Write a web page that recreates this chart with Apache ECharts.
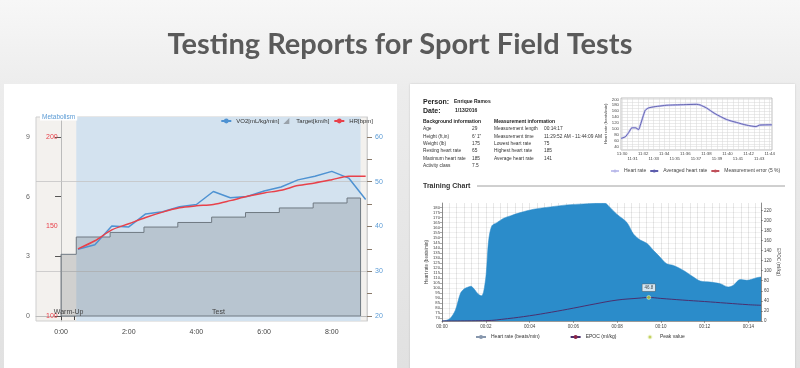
<!DOCTYPE html>
<html><head><meta charset="utf-8">
<script src="https://cdn.jsdelivr.net/npm/echarts@6/dist/echarts.min.js"></script>
<style>
html,body{margin:0;padding:0;width:800px;height:368px;overflow:hidden;}
body{background:linear-gradient(#f7f7f7 0%,#ececec 25%,#e1e1e1 100%);position:relative;}
.panel{position:absolute;background:#fff;}
#chart{position:absolute;left:0;top:0;width:800px;height:368px;}
</style></head>
<body>
<div class="panel" style="left:4px;top:84px;width:393px;height:290px;"></div>
<div class="panel" style="left:410px;top:84px;width:385px;height:290px;box-shadow:0 0 2px rgba(0,0,0,0.15)"></div>
<div id="chart"></div>
<script>
// ---------- Slide ----------
const slideTitle = 'Testing Reports for Sport Field Tests';

// ---------- Left chart: field test ----------
const fieldXLabels = [0, 2, 4, 6, 8];               // minutes
const metabolismTicks = [0, 3, 6, 9];
const hrTicks = [100, 150, 200];
const vo2Labels = [20, 30, 40, 50, 60];
const vo2Ticks = [20, 25, 30, 35, 40, 45, 50, 55, 60];
const vo2GridLines = [30, 50];
const phaseNames = ['Warm-Up', 'Test'];
const phaseStart = [0, 0.45];
const phaseEnd = [0.45, 8.85];
const targetTimes = [0, 0, 0.45, 1.45, 2.45, 3.45, 4.45, 5.45, 6.45, 7.45, 8.45, 8.85, 8.85, 0];
const targetValues = [0, 3.1, 3.97, 4.2, 4.47, 4.7, 4.97, 5.2, 5.43, 5.68, 5.93, 5.93, 0, 0];
const sampleTimes = [0.5, 1, 1.5, 2, 2.5, 3, 3.5, 4, 4.5, 5, 5.5, 6, 6.5, 7, 7.5, 8, 8.5, 9];
const vo2Values = [34.9, 35.9, 40.1, 39.9, 42.8, 43.3, 44.4, 44.9, 47.8, 46.4, 46.7, 47.9, 48.8, 50.4, 51.2, 52.3, 50.8, 46.0];
const hrValues = [137.5, 142, 148.1, 151.5, 155, 158, 160.4, 161.5, 162.3, 164.4, 166.8, 168.7, 170.2, 172.8, 174.3, 176.1, 178, 178];

// ---------- Right panel: report info ----------
const personName = 'Enrique Ramos';
const reportDate = '1/13/2016';
const bgLabels = ['Age', 'Height (ft,in)', 'Weight (lb)', 'Resting heart rate', 'Maximum heart rate', 'Activity class'];
const bgValues = ['29', '6\' 1"', '175', '65', '185', '7.5'];
const measLabels = ['Measurement length', 'Measurement time', 'Lowest heart rate', 'Highest heart rate', 'Average heart rate'];
const measValues = ['00:14:17', '11:29:52 AM - 11:44:09 AM', '75', '185', '141'];

// ---------- Small heart-rate chart (minutes after 11:30) ----------
const smallXLabels = [0, 1, 2, 3, 4, 5, 6, 7, 8, 9, 10, 11, 12, 13, 14];
const smallYLabels = [40, 60, 80, 100, 120, 140, 160, 180, 200];
const smallTimes = [-0.1, 0.31, 0.63, 0.94, 1.26, 1.57, 1.73, 1.98, 2.2, 2.52, 3.14, 4.25, 5.82, 7.08, 7.4, 8.0, 8.8, 9.9, 10.85, 11.8, 12.7, 13.05, 14.15, 14.22];
const smallHR = [68, 73.5, 88, 104, 104, 98, 112.7, 140.7, 163, 171, 175.4, 180, 182, 183, 181, 171, 152, 132, 122, 113, 108, 113, 114, 114];

// ---------- Training chart ----------
const trainHRLabels = [70, 75, 80, 85, 90, 95, 100, 105, 110, 115, 120, 125, 130, 135, 140, 145, 150, 155, 160, 165, 170, 175, 180];
const epocLabels = [0, 20, 40, 60, 80, 100, 120, 140, 160, 180, 200, 220];
const trainTimes = [0, 0.2, 0.38, 0.61, 0.84, 0.99, 1.14, 1.32, 1.48, 1.63, 1.80, 1.90, 2.02, 2.13, 2.28, 2.51, 2.82, 3.12, 3.58, 4.19, 4.95, 5.71, 6.47, 7.23, 7.46, 7.61, 7.99, 8.45, 8.75, 9.06, 9.36, 9.67, 9.97, 10.27, 10.58, 11.04, 11.49, 11.80, 12.25, 12.71, 13.09, 13.32, 13.62, 13.93, 14.38, 14.58];
const trainHR = [67.5, 68, 70, 78, 94.6, 98.8, 100.5, 101.8, 98.8, 94.6, 92.3, 96.2, 114, 147, 161.9, 165, 169.4, 171.7, 175, 178.3, 180.6, 182.6, 183.6, 184.2, 184.2, 181.6, 173.4, 165.2, 153.7, 147.8, 144.5, 137.3, 130.7, 124.1, 122.5, 117.5, 111, 107, 106, 104.4, 101.1, 102.8, 108.4, 107.7, 110.3, 111];
const epocTimes = [0, 2, 3, 4, 5, 6, 7, 8, 9, 9.45, 10, 11, 12, 13, 14, 14.58];
const epocValues = [0, 0.7, 4.7, 10.4, 17.5, 25.5, 34, 41.6, 45.4, 46.8, 44.9, 41.6, 38.7, 35.5, 32.4, 31.2];
const peakTimes = [9.45];
const peakValues = [46.8];

// ---------- helpers ----------
const pairs = (xs, ys) => xs.map((x, i) => [x, ys[i]]);
const pad2 = n => (n < 10 ? '0' : '') + n;
const fieldMinorTicks = [];
for (let t = 0; t <= 8.81; t += 0.4) fieldMinorTicks.push(+t.toFixed(2));
const smallXTicks = [];
for (let t = 0; t <= 14; t += 0.5) smallXTicks.push(t);
const smallYTicks = [];
for (let v = 30; v <= 200; v += 10) smallYTicks.push(v);

const FONT = 'Liberation Sans, Arial, sans-serif';

// ---------- graphic texts ----------
const G = [];
G.push({type: 'text', x: 400, y: 45, style: {text: slideTitle, font: 'bold 29px Lato', fill: '#5a5a5a', align: 'center', verticalAlign: 'middle'}});
G.push({type: 'text', x: 40, y: 117, z: 10, style: {text: 'Metabolism', font: '6.5px ' + FONT, fill: '#5b9bd5', verticalAlign: 'middle', backgroundColor: '#fff', padding: [0, 2, 0, 2]}});
G.push({type: 'text', x: 423, y: 102, style: {text: 'Person:', font: 'bold 7px ' + FONT, fill: '#222', verticalAlign: 'middle'}});
G.push({type: 'text', x: 454, y: 102, style: {text: personName, font: 'bold 5px ' + FONT, fill: '#222', verticalAlign: 'middle'}});
G.push({type: 'text', x: 423, y: 111, style: {text: 'Date:', font: 'bold 7px ' + FONT, fill: '#222', verticalAlign: 'middle'}});
G.push({type: 'text', x: 455, y: 111, style: {text: reportDate, font: 'bold 5px ' + FONT, fill: '#222', verticalAlign: 'middle'}});
G.push({type: 'text', x: 423, y: 121.5, style: {text: 'Background information', font: 'bold 5px ' + FONT, fill: '#222', verticalAlign: 'middle'}});
G.push({type: 'text', x: 494, y: 121.5, style: {text: 'Measurement information', font: 'bold 5px ' + FONT, fill: '#222', verticalAlign: 'middle'}});
bgLabels.forEach((l, i) => {
  const y = 129 + i * 7.3;
  G.push({type: 'text', x: 423, y, style: {text: l, font: '4.8px ' + FONT, fill: '#333', verticalAlign: 'middle'}});
  G.push({type: 'text', x: 472, y, style: {text: bgValues[i], font: '4.8px ' + FONT, fill: '#333', verticalAlign: 'middle'}});
});
measLabels.forEach((l, i) => {
  const y = 129 + i * 7.3;
  G.push({type: 'text', x: 494, y, style: {text: l, font: '4.8px ' + FONT, fill: '#333', verticalAlign: 'middle'}});
  G.push({type: 'text', x: 544, y, style: {text: measValues[i], font: '4.8px ' + FONT, fill: '#333', verticalAlign: 'middle'}});
});
G.push({type: 'text', x: 423, y: 186, style: {text: 'Training Chart', font: 'bold 7px ' + FONT, fill: '#333', verticalAlign: 'middle'}});
G.push({type: 'line', shape: {x1: 477, y1: 186, x2: 785, y2: 186}, style: {stroke: '#888', lineWidth: 0.8}});

const chart = echarts.init(document.getElementById('chart'));
const option = {
  animation: false,
  textStyle: {fontFamily: FONT},
  graphic: G,
  grid: [
    {left: 36, top: 117, width: 331, height: 204, show: true, backgroundColor: '#f3f1ee', borderColor: '#cfcfcf', borderWidth: 1},
    {left: 621, top: 98, width: 151, height: 52, show: true, backgroundColor: '#fff', borderColor: '#999', borderWidth: 0.6},
    {left: 442, top: 203, width: 319, height: 118, show: false}
  ],
  legend: [
    {right: 427, top: 118, padding: 0, itemWidth: 10, itemHeight: 6, itemGap: 4, selectedMode: false,
     textStyle: {fontSize: 6, color: '#333'},
     data: [
       {name: 'VO2[mL/kg/min]'},
       {name: 'Target[km/h]', icon: 'path://M0,10L10,0L10,10Z', itemStyle: {color: '#9aa2aa'}},
       {name: 'HR[bpm]'}
     ]},
    {left: 610, top: 168.5, padding: 0, itemWidth: 8, itemHeight: 4, itemGap: 3, selectedMode: false,
     textStyle: {fontSize: 5, color: '#444'},
     data: ['Heart rate', 'Averaged heart rate', 'Measurement error (5 %)']},
    {left: 475, top: 333.5, padding: 0, itemWidth: 10, itemHeight: 5, itemGap: 30, selectedMode: false,
     textStyle: {fontSize: 5, color: '#333'},
     data: [
       {name: 'Heart rate (beats/min)', lineStyle: {color: '#8797ad'}},
       {name: 'EPOC (ml/kg)'},
       {name: 'Peak value'}
     ]}
  ],
  xAxis: [
    {gridIndex: 0, type: 'value', min: -0.74, max: 9.04,
     axisLine: {lineStyle: {color: '#bbb'}},
     axisTick: {customValues: fieldMinorTicks, length: 4, lineStyle: {color: '#444'}},
     axisLabel: {customValues: fieldXLabels, formatter: v => v + ':00', color: '#444', fontSize: 7, margin: 8},
     splitLine: {show: false}},
    {gridIndex: 1, type: 'value', min: -0.1, max: 14.22,
     axisLine: {show: false},
     axisTick: {customValues: smallXTicks, show: false},
     axisLabel: {customValues: smallXLabels, formatter: v => (v % 2 ? '\n' : '') + '11:' + (30 + v), color: '#444', fontSize: 4.3, margin: 2, lineHeight: 4.5},
     splitLine: {show: true, lineStyle: {color: '#d6d6d6', width: 0.5}}},
    {gridIndex: 2, type: 'value', min: 0, max: 14.58, interval: 2, z: 3,
     axisLine: {lineStyle: {color: '#555', width: 0.6}},
     axisTick: {show: true, length: 2, lineStyle: {color: '#555', width: 0.5}},
     axisLabel: {formatter: v => '00:' + pad2(v), color: '#444', fontSize: 4.5, margin: 3},
     splitLine: {show: true, lineStyle: {color: 'rgba(0,0,0,0.18)', width: 0.5}},
     minorTick: {show: false, splitNumber: 6},
     minorSplitLine: {show: true, lineStyle: {color: 'rgba(0,0,0,0.18)', width: 0.5}}}
  ],
  yAxis: [
    {gridIndex: 0, type: 'value', min: -0.25, max: 10, position: 'left',
     axisLine: {show: true, lineStyle: {color: '#bbb'}},
     axisTick: {customValues: metabolismTicks, length: 6, lineStyle: {color: '#555'}},
     axisLabel: {customValues: metabolismTicks, color: '#666', fontSize: 7, margin: 6},
     splitLine: {show: false}},
    {gridIndex: 0, type: 'value', min: 97.2, max: 211.1, position: 'left',
     axisLine: {show: false}, axisTick: {show: false},
     axisLabel: {customValues: hrTicks, inside: true, color: '#e8414a', fontSize: 7, margin: 10},
     splitLine: {show: false}},
    {gridIndex: 0, type: 'value', min: 18.88, max: 64.44, position: 'right',
     axisLine: {show: true, lineStyle: {color: '#cfcfcf'}},
     axisTick: {customValues: vo2Ticks, length: 5, lineStyle: {color: '#8a7a6a'}},
     axisLabel: {customValues: vo2Labels, color: '#5b9bd5', fontSize: 7, margin: 8},
     splitLine: {show: false}},
    {gridIndex: 1, type: 'value', min: 29, max: 204.5,
     name: 'Heart rate (beats/min)', nameLocation: 'middle', nameGap: 11, nameRotate: 90,
     nameTextStyle: {fontSize: 4.2, color: '#444'},
     axisLine: {show: false},
     axisTick: {customValues: smallYTicks, show: false},
     axisLabel: {customValues: smallYLabels, color: '#444', fontSize: 4.3, margin: 2},
     splitLine: {show: true, lineStyle: {color: '#d6d6d6', width: 0.5}}},
    {gridIndex: 2, type: 'value', min: 67.3, max: 184.5, position: 'left',
     name: 'Heart rate (beats/min)', nameLocation: 'middle', nameGap: 12, nameRotate: 90,
     nameTextStyle: {fontSize: 4.5, color: '#444'},
     axisLine: {show: true, lineStyle: {color: '#555', width: 0.6}},
     axisTick: {customValues: trainHRLabels, length: 2, lineStyle: {color: '#555', width: 0.5}},
     axisLabel: {customValues: trainHRLabels, color: '#444', fontSize: 4.2, margin: 2},
     splitLine: {show: true, lineStyle: {color: '#e2e2e2', width: 0.5}}},
    {gridIndex: 2, type: 'value', min: 0, max: 234.5, position: 'right',
     name: 'EPOC (ml/kg)', nameLocation: 'middle', nameGap: 15, nameRotate: -90,
     nameTextStyle: {fontSize: 4.5, color: '#444'},
     axisLine: {show: true, lineStyle: {color: '#555', width: 0.6}},
     axisTick: {customValues: epocLabels, length: 2, lineStyle: {color: '#555', width: 0.5}},
     axisLabel: {customValues: epocLabels, color: '#444', fontSize: 4.5, margin: 3},
     splitLine: {show: false}}
  ],
  series: [
    // phase backgrounds
    {type: 'line', name: 'phaseBg', xAxisIndex: 0, yAxisIndex: 0, data: [], silent: true, z: 1,
     markArea: {silent: true, z: 1, label: {show: false},
       data: [[{xAxis: phaseStart[1], itemStyle: {color: '#d3e2ef'}}, {xAxis: phaseEnd[1]}]]}},
    // gridlines at VO2 values
    {type: 'line', name: 'vo2Grid', xAxisIndex: 0, yAxisIndex: 2, data: [], silent: true, z: 1,
     markLine: {silent: true, symbol: 'none', label: {show: false}, z: 1,
       lineStyle: {color: '#c4c4c4', width: 0.8, type: 'solid'},
       data: vo2GridLines.map(v => ({yAxis: v}))}},
    {type: 'line', name: 'Target[km/h]', xAxisIndex: 0, yAxisIndex: 0, step: 'end', symbol: 'none',
     data: pairs(targetTimes, targetValues),
     lineStyle: {color: '#6f7982', width: 1}, itemStyle: {color: '#9aa2aa'},
     areaStyle: {color: 'rgba(105,110,115,0.36)', origin: 0}},
    {type: 'line', name: 'phaseLabels', xAxisIndex: 0, yAxisIndex: 0, data: [], silent: true, z: 5,
     markArea: {silent: true, z: 5, itemStyle: {color: 'rgba(0,0,0,0)'},
       label: {show: true, position: 'insideBottom', distance: 5, color: '#444', fontSize: 7},
       data: phaseNames.map((n, i) => [{name: n, xAxis: phaseStart[i]}, {xAxis: phaseEnd[i]}])}},
    {type: 'line', name: 'VO2[mL/kg/min]', xAxisIndex: 0, yAxisIndex: 2, symbol: 'none', z: 4,
     data: pairs(sampleTimes, vo2Values), lineStyle: {color: '#4e92d2', width: 1.5}, itemStyle: {color: '#4e92d2'}},
    {type: 'line', name: 'HR[bpm]', xAxisIndex: 0, yAxisIndex: 1, symbol: 'none', smooth: 0.3, z: 4,
     data: pairs(sampleTimes, hrValues), lineStyle: {color: '#e8414a', width: 1.5}, itemStyle: {color: '#e8414a'}},

    // small chart
    {type: 'line', name: 'Heart rate', xAxisIndex: 1, yAxisIndex: 3, symbol: 'none', smooth: 0.2,
     data: pairs(smallTimes, smallHR), lineStyle: {color: '#c3c3ee', width: 2}, itemStyle: {color: '#b8b8e8'}},
    {type: 'line', name: 'Averaged heart rate', xAxisIndex: 1, yAxisIndex: 3, symbol: 'none', smooth: 0.2,
     data: pairs(smallTimes, smallHR), lineStyle: {color: '#5d5dad', width: 0.9}, itemStyle: {color: '#5d5dad'}},
    {type: 'line', name: 'Measurement error (5 %)', xAxisIndex: 1, yAxisIndex: 3, symbol: 'none',
     data: [], lineStyle: {color: '#c0505a', width: 0.9}, itemStyle: {color: '#c0505a'}},

    // training chart
    {type: 'line', name: 'Heart rate (beats/min)', xAxisIndex: 2, yAxisIndex: 4, symbol: 'none', smooth: 0.3,
     data: pairs(trainTimes, trainHR), lineStyle: {color: '#2a8ac8', width: 0.5}, itemStyle: {color: '#8797ad'},
     areaStyle: {color: '#2b8cca', opacity: 1}},
    {type: 'line', name: 'EPOC (ml/kg)', xAxisIndex: 2, yAxisIndex: 5, symbol: 'none', smooth: 0.4, z: 4,
     data: pairs(epocTimes, epocValues), lineStyle: {color: '#4a2f6e', width: 1}, itemStyle: {color: '#8a2446'}},
    {type: 'scatter', name: 'Peak value', xAxisIndex: 2, yAxisIndex: 5, symbolSize: 4, z: 6,
     data: pairs(peakTimes, peakValues), itemStyle: {color: '#b5c83a', borderColor: '#fff', borderWidth: 0.5},
     label: {show: true, position: 'top', distance: 4, formatter: p => p.value[1].toFixed(1), fontSize: 4.5, color: '#222',
       backgroundColor: '#fff', borderColor: '#555', borderWidth: 0.5, padding: [1, 2]}}
  ]
};
chart.setOption(option);
</script>
</body></html>
